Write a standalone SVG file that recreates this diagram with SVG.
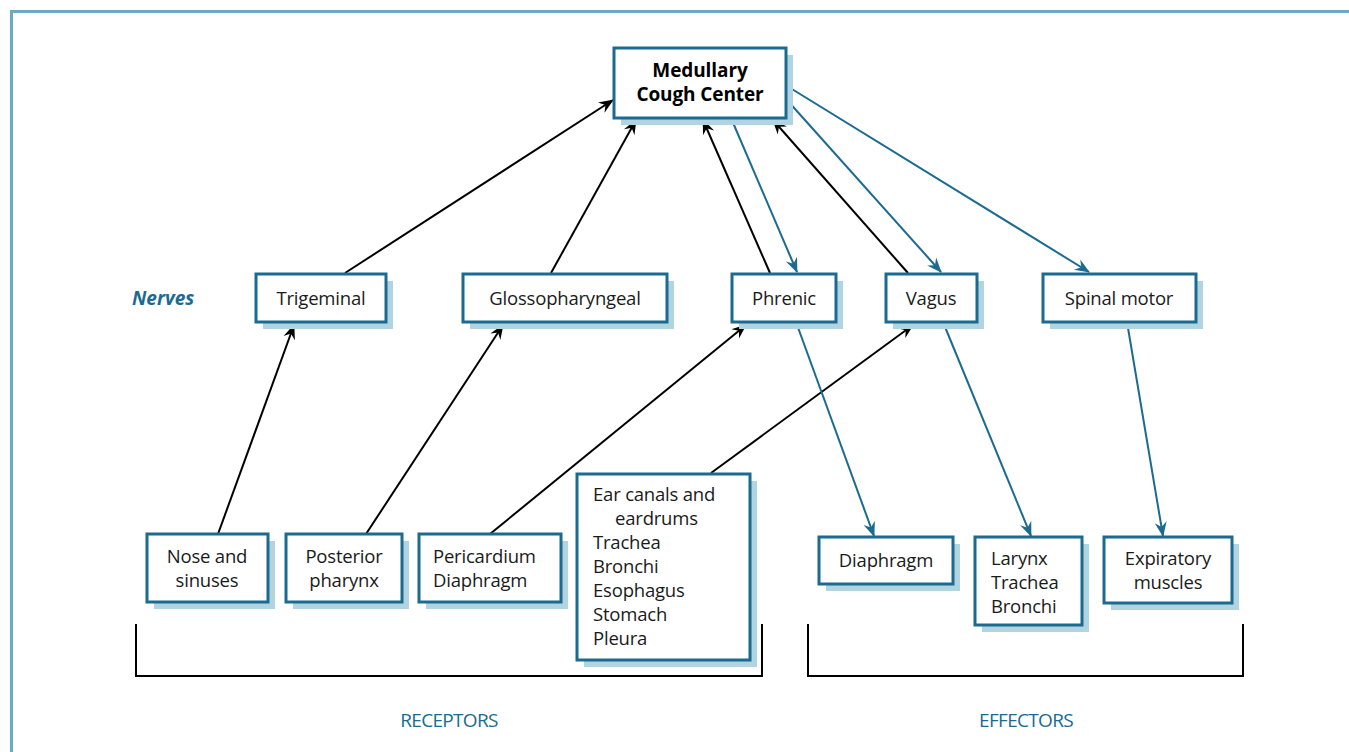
<svg xmlns="http://www.w3.org/2000/svg" width="1349" height="752" viewBox="0 0 1349 752">
  <defs>
    <style>
      .frame { fill: none; stroke: #6aaac4; stroke-width: 3; }
      .box { fill: #ffffff; stroke: #1b6b91; stroke-width: 3; }
      .shadow { fill: #b2d3e0; }
      .t { font-family: "Open Sans", "Noto Sans", "Liberation Sans", sans-serif; font-size: 18.5px; fill: #1a1a1a; letter-spacing: -0.2px; }
      .c { text-anchor: middle; }
      .b { font-weight: bold; font-size: 19px; fill: #000; letter-spacing: -0.1px; }
      .lab { font-family: "Open Sans", "Noto Sans", "Liberation Sans", sans-serif; font-size: 19px; fill: #1b6b91; text-anchor: middle; letter-spacing: -0.7px; }
      .nerves { font-family: "Open Sans", "Noto Sans", "Liberation Sans", sans-serif; font-size: 19px; font-weight: bold; font-style: italic; fill: #1b6b91; }
      .aff { stroke: #000; stroke-width: 2; fill: none; marker-end: url(#headK); }
      .eff { stroke: #1b6b91; stroke-width: 2; fill: none; marker-end: url(#headB); }
      .bracket { stroke: #000; stroke-width: 2; fill: none; }
    </style>
    <marker id="headK" viewBox="-16 -7 18 14" refX="0" refY="0" markerWidth="18" markerHeight="14" markerUnits="userSpaceOnUse" orient="auto">
      <path d="M1,0 L-14,-6 L-9,0 L-14,6 Z" fill="#000"/>
    </marker>
    <marker id="headB" viewBox="-16 -7 18 14" refX="0" refY="0" markerWidth="18" markerHeight="14" markerUnits="userSpaceOnUse" orient="auto">
      <path d="M1,0 L-14,-6 L-9,0 L-14,6 Z" fill="#1b6b91"/>
    </marker>
  </defs>

  <rect width="1349" height="752" fill="#ffffff"/>
  <path class="frame" d="M11.5,752 V11.5 H1349"/>

  <!-- connectors -->
  <g id="connectors">
    <!-- afferent paths into the cough center -->
    <line class="aff" x1="345" y1="273" x2="613" y2="100"/>
    <line class="aff" x1="551" y1="273" x2="636" y2="120"/>
    <line class="aff" x1="770" y1="273" x2="703" y2="120"/>
    <line class="aff" x1="908" y1="273" x2="773" y2="120"/>
    <!-- efferent paths out of the cough center -->
    <line class="eff" x1="731" y1="118" x2="797" y2="272"/>
    <line class="eff" x1="787" y1="100" x2="941" y2="272"/>
    <line class="eff" x1="787" y1="86" x2="1089" y2="272"/>
    <!-- receptors to nerves -->
    <line class="aff" x1="218" y1="534" x2="294" y2="325"/>
    <line class="aff" x1="366" y1="534" x2="503" y2="325"/>
    <line class="aff" x1="490" y1="534" x2="746" y2="325"/>
    <line class="aff" x1="711" y1="473" x2="913" y2="325"/>
    <!-- nerves to effectors -->
    <line class="eff" x1="796" y1="322" x2="874" y2="536"/>
    <line class="eff" x1="943" y1="322" x2="1031" y2="536"/>
    <line class="eff" x1="1127" y1="322" x2="1163" y2="536"/>
  </g>

  <!-- center -->
  <g id="medullary">
    <rect class="shadow" x="621" y="55" width="172" height="70"/>
    <rect class="box" x="614" y="48" width="172" height="70"/>
    <text class="t b c" x="700" y="77">Medullary</text>
    <text class="t b c" x="700" y="101">Cough Center</text>
  </g>

  <text class="nerves" x="132" y="305">Nerves</text>

  <!-- nerves -->
  <g id="trigeminal">
    <rect class="shadow" x="263" y="281" width="130" height="48"/>
    <rect class="box" x="256" y="274" width="130" height="48"/>
    <text class="t c" x="321" y="305">Trigeminal</text>
  </g>
  <g id="glossopharyngeal">
    <rect class="shadow" x="470" y="281" width="204" height="48"/>
    <rect class="box" x="463" y="274" width="204" height="48"/>
    <text class="t c" x="565" y="305">Glossopharyngeal</text>
  </g>
  <g id="phrenic">
    <rect class="shadow" x="739" y="281" width="104" height="48"/>
    <rect class="box" x="732" y="274" width="104" height="48"/>
    <text class="t c" x="784" y="305">Phrenic</text>
  </g>
  <g id="vagus">
    <rect class="shadow" x="893" y="281" width="91" height="48"/>
    <rect class="box" x="886" y="274" width="91" height="48"/>
    <text class="t c" x="931" y="305">Vagus</text>
  </g>
  <g id="spinal-motor">
    <rect class="shadow" x="1050" y="281" width="153" height="48"/>
    <rect class="box" x="1043" y="274" width="153" height="48"/>
    <text class="t c" x="1119" y="305">Spinal motor</text>
  </g>

  <!-- receptors -->
  <g id="nose">
    <rect class="shadow" x="154" y="541" width="121" height="68"/>
    <rect class="box" x="147" y="534" width="121" height="68"/>
    <text class="t c" x="207" y="563">Nose and</text>
    <text class="t c" x="207" y="587">sinuses</text>
  </g>
  <g id="pharynx">
    <rect class="shadow" x="293" y="541" width="116" height="68"/>
    <rect class="box" x="286" y="534" width="116" height="68"/>
    <text class="t c" x="344" y="563">Posterior</text>
    <text class="t c" x="344" y="587">pharynx</text>
  </g>
  <g id="pericardium">
    <rect class="shadow" x="426" y="541" width="142" height="68"/>
    <rect class="box" x="419" y="534" width="142" height="68"/>
    <text class="t" x="433" y="563">Pericardium</text>
    <text class="t" x="433" y="587">Diaphragm</text>
  </g>
  <g id="ear-canals">
    <rect class="shadow" x="584" y="481" width="173" height="186"/>
    <rect class="box" x="577" y="474" width="173" height="186"/>
    <text class="t" x="593" y="501">Ear canals and</text>
    <text class="t" x="615" y="525">eardrums</text>
    <text class="t" x="593" y="549">Trachea</text>
    <text class="t" x="593" y="573">Bronchi</text>
    <text class="t" x="593" y="597">Esophagus</text>
    <text class="t" x="593" y="621">Stomach</text>
    <text class="t" x="593" y="645">Pleura</text>
  </g>

  <!-- effectors -->
  <g id="diaphragm">
    <rect class="shadow" x="826" y="544" width="134" height="47"/>
    <rect class="box" x="819" y="537" width="134" height="47"/>
    <text class="t c" x="886" y="567">Diaphragm</text>
  </g>
  <g id="larynx">
    <rect class="shadow" x="982" y="544" width="107" height="88"/>
    <rect class="box" x="975" y="537" width="107" height="88"/>
    <text class="t" x="991" y="565">Larynx</text>
    <text class="t" x="991" y="589">Trachea</text>
    <text class="t" x="991" y="613">Bronchi</text>
  </g>
  <g id="expiratory">
    <rect class="shadow" x="1111" y="544" width="128" height="66"/>
    <rect class="box" x="1104" y="537" width="128" height="66"/>
    <text class="t c" x="1168" y="565">Expiratory</text>
    <text class="t c" x="1168" y="589">muscles</text>
  </g>

  <!-- group brackets -->
  <g id="brackets">
    <path class="bracket" d="M136,624 V676 H762 V624"/>
    <path class="bracket" d="M808,624 V676 H1243 V624"/>
    <text class="lab" x="449" y="727">RECEPTORS</text>
    <text class="lab" x="1026" y="727">EFFECTORS</text>
  </g>
</svg>
